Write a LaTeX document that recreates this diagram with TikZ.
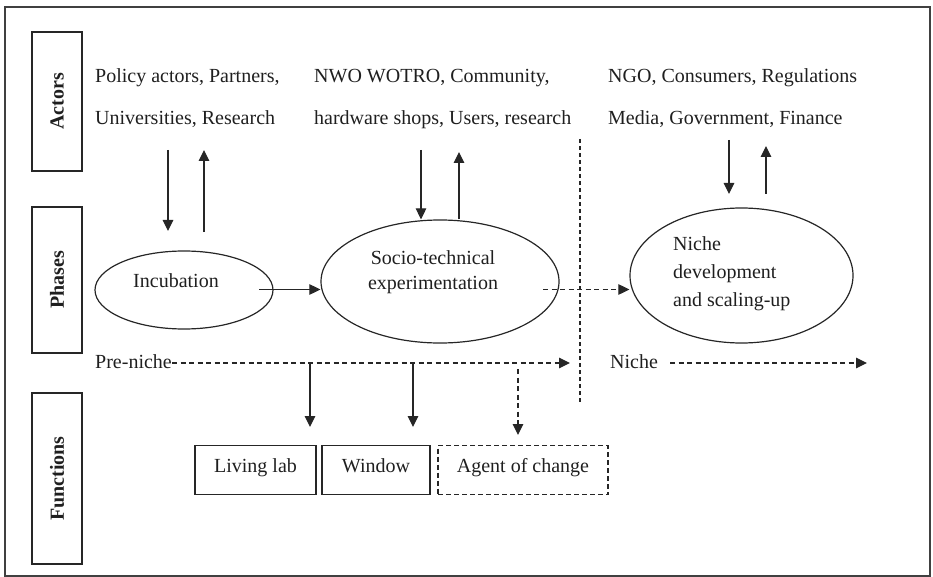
\documentclass[tikz,border=0pt]{standalone}
\usepackage{fontspec}
\setmainfont{Liberation Serif}
\usetikzlibrary{arrows.meta,shapes.geometric,calc}

\begin{document}
\begin{tikzpicture}[x=1pt,y=-1pt,
  every node/.style={font=\fontsize{20}{24}\selectfont, inner sep=0pt, text=black!88},
  line/.style={draw=black!85, line width=1.1pt},
  arr/.style={line, -{Triangle[length=11pt,width=10.5pt]}},
  darr/.style={arr, dash pattern=on 5pt off 3.5pt},
  sidebox/.style={draw=black!85, line width=1.4pt, rotate=90, minimum height=50pt,
                  font=\fontsize{20}{24}\selectfont\bfseries},
  phase/.style={ellipse, draw=black!85, line width=1.2pt, inner sep=0pt},
  fnbox/.style={draw=black!85, line width=1.4pt, minimum height=49pt,
                text height=13pt, text depth=8pt},
  lbl/.style={anchor=base west},
]
\useasboundingbox (0,0) rectangle (933,577);

% outer frame
\draw[draw=black!75, line width=1.2pt] (5,7) rectangle (930,576);

% row labels
\node[sidebox, minimum width=139pt] (actors) at (57,101.5) {Actors};
\node[sidebox, minimum width=146pt] (phases) at (57,280) {Phases};
\node[sidebox, minimum width=171pt] (functions) at (57,478.5) {Functions};

% actors
\node[lbl] (act1a) at (95,83) {Policy actors, Partners,};
\node[lbl] (act1b) at (95,125) {Universities, Research};
\node[lbl] (act2a) at (314,83) {NWO WOTRO, Community,};
\node[lbl] (act2b) at (314,125) {hardware shops, Users, research};
\node[lbl] (act3a) at (608,83) {NGO, Consumers, Regulations};
\node[lbl] (act3b) at (608,125) {Media, Government, Finance};

% phases
\node[phase, minimum width=178pt, minimum height=78pt] (inc) at (184,290) {};
\node[anchor=base] (inctext) at (176,287) {Incubation};

\node[phase, minimum width=238pt, minimum height=123pt] (soc) at (440,281.5) {};
\node[anchor=base] (soctext1) at (433,264) {Socio-technical};
\node[anchor=base] (soctext2) at (433,289) {experimentation};

\node[phase, minimum width=223pt, minimum height=135pt] (niche) at (741.5,275.5) {};
\node[lbl] (nichetext1) at (673,251) {Niche};
\node[lbl] (nichetext2) at (673,278) {development};
\node[lbl] (nichetext3) at (673,306) {and scaling-up};

% niche stages
\node[lbl] (pre) at (95,368.5) {Pre-niche};
\node[lbl] (nic) at (610,368.5) {Niche};

% functions
\node[fnbox, minimum width=121pt] (lab) at (255.5,470) {Living lab};
\node[fnbox, minimum width=108pt] (win) at (376,470) {Window};
\node[fnbox, minimum width=170pt, dash pattern=on 5pt off 3pt] (agent) at (523,470) {Agent of change};

% connector end points
\coordinate (a1d) at (168,150);  \coordinate (a1de) at (168,231);
\coordinate (a1u) at (204,232);  \coordinate (a1ue) at (204,150);
\coordinate (a2d) at (421,150);  \coordinate (a2u) at (459,219.5);
\coordinate (a2ue) at (459,152);
\coordinate (a3d) at (729,140);  \coordinate (a3de) at (729,194);
\coordinate (a3u) at (766,194);  \coordinate (a3ue) at (766,146);
\coordinate (incout) at (259,289.5);
\coordinate (socout) at (543,289.5);
\coordinate (sepTop) at (580,139);
\coordinate (sepBot) at (580,403);
\coordinate (preEnd) at (570,363);
\coordinate (nicStart) at (670,363);
\coordinate (nicEnd) at (867,363);
\coordinate (f1) at (310,363);  \coordinate (f1e) at (310,427);
\coordinate (f2) at (413,363);  \coordinate (f2e) at (413,427);
\coordinate (f3) at (518,369);  \coordinate (f3e) at (518,435);

% actor interactions
\draw[arr] (a1d) -- (a1de);
\draw[arr] (a1u) -- (a1ue);
\draw[arr] (a2d) -- (a2d |- soc.north);
\draw[arr] (a2u) -- (a2ue);
\draw[arr] (a3d) -- (a3de);
\draw[arr] (a3u) -- (a3ue);

% phase transitions
\draw[arr] (incout) -- (incout -| soc.west);
\draw[darr] (socout) -- (socout -| niche.west);

% boundary between pre-niche and niche
\draw[line, dash pattern=on 4pt off 3pt] (sepTop) -- (sepBot);

% stage lines
\draw[darr] (pre.east |- preEnd) -- (preEnd);
\draw[darr] (nicStart) -- (nicEnd);

% functions
\draw[arr] (f1) -- (f1e);
\draw[arr] (f2) -- (f2e);
\draw[darr] (f3) -- (f3e);
\end{tikzpicture}
\end{document}
